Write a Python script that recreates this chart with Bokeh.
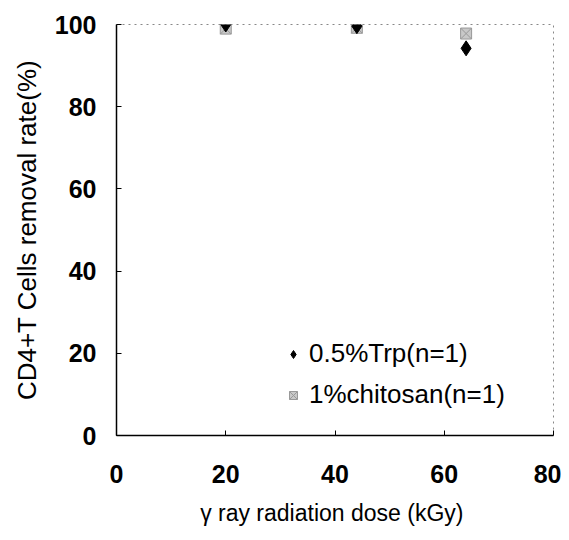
from bokeh.plotting import figure
from bokeh.embed import file_html
from bokeh.resources import INLINE
from bokeh.models import Legend, LegendItem, FixedTicker, Range1d

dose_trp = [20, 44, 64]
rate_trp = [100, 99.6, 94.2]
dose_chi = [20, 44, 64]
rate_chi = [99.0, 99.2, 97.8]
x_ticks = [0, 20, 40, 60, 80]
y_ticks = [0, 20, 40, 60, 80, 100]

p = figure(width=561, height=532, output_backend="svg", toolbar_location=None,
           x_range=Range1d(0, 80), y_range=Range1d(0, 100),
           min_border_left=116, min_border_right=8, min_border_top=24, min_border_bottom=97)
p.background_fill_color = "white"
p.border_fill_color = "white"
p.grid.visible = False
p.outline_line_color = "#888888"
p.outline_line_dash = "dotted"
p.outline_line_width = 1

for ax in (p.xaxis[0], p.yaxis[0]):
    ax.axis_line_color = "black"
    ax.axis_line_width = 1.5
    ax.major_tick_in = 5
    ax.major_tick_out = 0
    ax.minor_tick_line_color = None
    ax.major_tick_line_color = "black"
    ax.major_label_text_font = "Liberation Sans"
    ax.major_label_text_font_style = "bold"
    ax.major_label_text_font_size = "25px"
    ax.major_label_text_color = "black"
    ax.axis_label_text_font = "Liberation Sans"
    ax.axis_label_text_font_style = "normal"
    ax.axis_label_text_color = "black"

p.xaxis.axis_label_text_font_size = "23px"
p.yaxis.axis_label_text_font_size = "26px"
p.xaxis.ticker = FixedTicker(ticks=x_ticks)
p.yaxis.ticker = FixedTicker(ticks=y_ticks)
p.xaxis.major_label_standoff = 29
p.yaxis.major_label_standoff = 20
p.xaxis.axis_label = "γ  ray radiation dose (kGy)"
p.yaxis.axis_label = "CD4+T Cells removal rate(%)"
p.xaxis.axis_label_standoff = 14
p.yaxis.axis_label_standoff = 10

r_chi = p.scatter(dose_chi, rate_chi, marker="square_x", size=11, fill_color="#c8c8c8",
                  line_color="#999999", line_width=1)
r_trp = p.scatter(dose_trp, rate_trp, marker="diamond", size=15, fill_color="black",
                  line_color="black")

legend = Legend(items=[LegendItem(label="0.5%Trp(n=1)", renderers=[r_trp]),
                       LegendItem(label="1%chitosan(n=1)", renderers=[r_chi])],
                location=(167, 25), border_line_color=None,
                background_fill_alpha=0, label_text_font="Liberation Sans",
                label_text_font_size="26px", label_text_color="black",
                spacing=10, margin=0, glyph_width=20, label_standoff=6)
p.add_layout(legend, "center")

open("out.html", "w").write(file_html(p, INLINE))
